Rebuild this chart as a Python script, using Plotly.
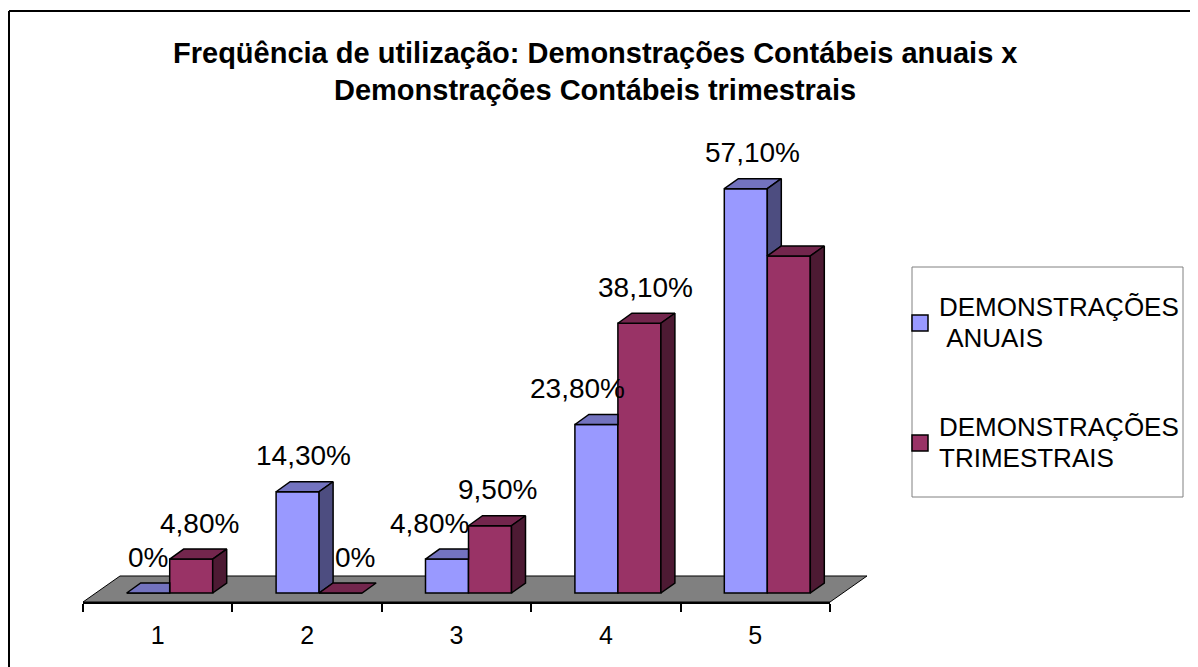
import plotly.graph_objects as go

# ---------------- data ----------------
categories = [1, 2, 3, 4, 5]
tick_labels = ["1", "2", "3", "4", "5"]
anuais = [0.0, 14.3, 4.8, 23.8, 57.1]
trimestrais = [4.8, 0.0, 9.5, 38.1, 47.6]
anuais_labels = ["0%", "14,30%", "4,80%", "23,80%", "57,10%"]
trimestrais_labels = ["4,80%", "0%", "9,50%", "38,10%", "47,60%"]
series_names = ["DEMONSTRAÇÕES", "DEMONSTRAÇÕES"]
series_names2 = ["\u00a0ANUAIS", "TRIMESTRAIS"]
title_lines = ["Freqüência de utilização: Demonstrações Contábeis anuais x",
               "Demonstrações Contábeis trimestrais"]

# ---------------- layout constants (pixels, page coords) ----------------
PAGE_OFF = 8                       # browser body margin
W, H = 1198 - PAGE_OFF, 667 - PAGE_OFF


def X(p):      # page pixel -> paper x
    return (p - PAGE_OFF) / W


def Y(p):      # page pixel -> paper y
    return 1 - (p - PAGE_OFF) / H


X_LEFT, X_RIGHT = 83, 830          # pixel of x=0.5 and x=5.5
Y_FLOOR = 602                      # floor front edge (bottom of plot area)
Y_ZERO = 593                       # bar base
Y_TOP = 120
PPU = 7.08                         # pixels per percent
CAT_PX = (X_RIGHT - X_LEFT) / 5.0


def px_dx(p):
    return p / CAT_PX


def px_dy(p):
    return p / PPU


y_min = -(Y_FLOOR - Y_ZERO) / PPU
y_max = (Y_ZERO - Y_TOP) / PPU

BW = px_dx(43)                     # bar width
SHIFT = px_dx(12)                  # depth shift of the bar row
OFF_A = SHIFT - BW
OFF_T = SHIFT
DDX, DDY = px_dx(14), px_dy(10)    # bar depth
FLOOR_DX, FLOOR_DY = 37, 26        # floor depth in pixels

BLUE = ["#9999FF", "#7373BF", "#4D4D80"]
RED = ["#993366", "#73264D", "#4D1A33"]
FONT = "Liberation Sans, Arial, sans-serif"

fig = go.Figure()

# front faces
fig.add_trace(go.Bar(x=categories, y=anuais, width=BW, offset=OFF_A,
                     marker=dict(color=BLUE[0], line=dict(color="black", width=1.5)),
                     name="anuais", showlegend=False))
fig.add_trace(go.Bar(x=categories, y=trimestrais, width=BW, offset=OFF_T,
                     marker=dict(color=RED[0], line=dict(color="black", width=1.5)),
                     name="trimestrais", showlegend=False))


def poly(xs, ys, color):
    fig.add_trace(go.Scatter(
        x=xs + [xs[0]], y=ys + [ys[0]], fill="toself", fillcolor=color,
        mode="lines", line=dict(color="black", width=1.5),
        hoverinfo="skip", showlegend=False))


for c, a, t in zip(categories, anuais, trimestrais):
    ax0, ax1 = c + OFF_A, c + OFF_A + BW
    tx0, tx1 = c + OFF_T, c + OFF_T + BW
    # blue top face (clipped where red front hides it)
    if t > a:
        poly([ax0, ax1, ax1, ax0 + DDX], [a, a, a + DDY, a + DDY], BLUE[1])
    else:
        poly([ax0, ax1, ax1 + DDX, ax0 + DDX], [a, a, a + DDY, a + DDY], BLUE[1])
    # blue side face (only visible part above red bar)
    if a > t:
        poly([ax1, ax1, ax1 + DDX, ax1 + DDX], [t, a, a + DDY, t + DDY], BLUE[2])
    # red top face
    poly([tx0, tx1, tx1 + DDX, tx0 + DDX], [t, t, t + DDY, t + DDY], RED[1])
    # red side face
    if t > 0:
        poly([tx1, tx1, tx1 + DDX, tx1 + DDX], [0, t, t + DDY, DDY], RED[2])

# data labels
label_dx_a = [0, 6, -18, -19, 7]
label_dx_t = [8, 14, 7, 6, 48]
annotations = []
for i, c in enumerate(categories):
    annotations.append(dict(x=c + OFF_A + BW / 2 + px_dx(label_dx_a[i]), y=anuais[i],
                            text=anuais_labels[i], showarrow=False, yshift=36,
                            xref="x", yref="y", font=dict(size=28, color="black", family=FONT)))
    annotations.append(dict(x=c + OFF_T + BW / 2 + px_dx(label_dx_t[i]), y=trimestrais[i],
                            text=trimestrais_labels[i], showarrow=False, yshift=36,
                            xref="x", yref="y", font=dict(size=28, color="black", family=FONT)))

# title
for txt, yy in zip(title_lines, [53, 90]):
    annotations.append(dict(x=X(595), y=Y(yy), xref="paper", yref="paper",
                            text="<b>" + txt + "</b>", showarrow=False,
                            xanchor="center", yanchor="middle",
                            font=dict(size=29, color="black", family=FONT)))

shapes = []
# floor (drawn beneath the bars, in paper coords so it is not clipped)
fl = [(X_LEFT, Y_FLOOR), (X_RIGHT, Y_FLOOR),
      (X_RIGHT + FLOOR_DX, Y_FLOOR - FLOOR_DY), (X_LEFT + FLOOR_DX, Y_FLOOR - FLOOR_DY)]
shapes.append(dict(type="path", xref="paper", yref="paper", layer="below",
                   path="M " + " L ".join(f"{X(x):.5f},{Y(y):.5f}" for x, y in fl) + " Z",
                   fillcolor="#808080", line=dict(color="#000000", width=1)))

# legend (manual)
shapes.append(dict(type="rect", xref="paper", yref="paper",
                   x0=X(912), x1=X(1183), y0=Y(497), y1=Y(267),
                   line=dict(color="#808080", width=1), fillcolor="white"))
for cols, cy, l1, l2, ty in [(BLUE, 323, series_names[0], series_names2[0], 307),
                             (RED, 443, series_names[1], series_names2[1], 427)]:
    shapes.append(dict(type="rect", xref="paper", yref="paper",
                       x0=X(912), x1=X(928), y0=Y(cy + 8), y1=Y(cy - 8),
                       line=dict(color="black", width=1.5), fillcolor=cols[0]))
    for txt, yy in [(l1, ty), (l2, ty + 31)]:
        annotations.append(dict(x=X(937), y=Y(yy), xref="paper", yref="paper",
                                text=txt, showarrow=False, xanchor="left", yanchor="middle",
                                font=dict(size=26, color="black", family=FONT)))

# outer border (top and left)
shapes.append(dict(type="line", xref="paper", yref="paper",
                   x0=X(9), x1=1.0, y0=Y(11), y1=Y(11),
                   line=dict(color="black", width=2)))
shapes.append(dict(type="line", xref="paper", yref="paper",
                   x0=X(9), x1=X(9), y0=0, y1=Y(11),
                   line=dict(color="black", width=2)))

fig.update_layout(
    width=W, height=H,
    margin=dict(l=0, r=0, t=0, b=0),
    paper_bgcolor="white", plot_bgcolor="rgba(0,0,0,0)",
    barmode="overlay",
    showlegend=False,
    annotations=annotations,
    shapes=shapes,
    xaxis=dict(domain=[X(X_LEFT), X(X_RIGHT)], range=[0.5, 5.5],
               tickmode="array", tickvals=categories, ticktext=tick_labels,
               ticks="", showgrid=False, zeroline=False,
               showline=True, linecolor="black", linewidth=1.5,
               tickfont=dict(size=25, color="black", family=FONT),
               ticklabelstandoff=10,
               minor=dict(tickmode="array", tickvals=[0.5, 1.5, 2.5, 3.5, 4.5, 5.5],
                          ticks="outside", ticklen=8, tickcolor="black", tickwidth=1.5,
                          showgrid=False),
               fixedrange=True),
    yaxis=dict(domain=[Y(Y_FLOOR), Y(Y_TOP)], range=[y_min, y_max],
               visible=False, fixedrange=True),
)

fig.write_html("out.html")
